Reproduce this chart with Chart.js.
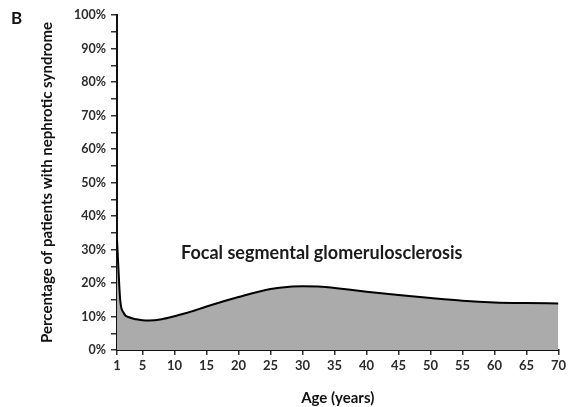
<!DOCTYPE html>
<html>
<head>
<meta charset="utf-8">
<script src="https://cdn.jsdelivr.net/npm/chart.js@4"></script>
<style>
    html, body { margin: 0; padding: 0; background: #fff; }
    #wrap { width: 569px; height: 407px; }
</style>
</head>
<body>
<div id="wrap"><canvas id="fsgsChart" width="569" height="407"></canvas></div>
<script>
// Age (years) and percentage of patients with nephrotic syndrome
const ages = [1, 1.5, 2, 3, 4, 5, 6, 8, 10, 12, 15, 20, 25, 28, 30, 33, 35, 40, 45, 50, 55, 60, 65, 70];
const percentages = [33, 15, 11.2, 9.7, 9.2, 8.9, 8.8, 9.2, 10.1, 11.1, 13, 15.8, 18.2, 18.9, 19, 18.9, 18.5, 17.4, 16.4, 15.5, 14.7, 14.2, 14, 13.9];

// Tick labels
const xTicks = [1, 5, 10, 15, 20, 25, 30, 35, 40, 45, 50, 55, 60, 65, 70];
const yTicks = [0, 10, 20, 30, 40, 50, 60, 70, 80, 90, 100];

const panelLetter = 'B';
const curveLabel = 'Focal segmental glomerulosclerosis';
const curveLabelAt = { x: 33, y: 29 };

const FONT = 'Lato, "Open Sans", sans-serif';
const TEXT_COLOR = '#2b2b2b';

// Draw panel letter and the in-plot label
const labelsPlugin = {
    id: 'labelsPlugin',
    afterDraw(chart) {
        const ctx = chart.ctx;
        const xs = chart.scales.x;
        const ys = chart.scales.y;
        ctx.save();
        ctx.fillStyle = '#111';
        ctx.font = `bold 17px ${FONT}`;
        ctx.textAlign = 'left';
        ctx.textBaseline = 'middle';
        ctx.fillText(panelLetter, 11, 19);

        ctx.fillStyle = '#1a1a1a';
        ctx.font = `bold 18px ${FONT}`;
        ctx.textAlign = 'center';
        ctx.fillText(curveLabel, xs.getPixelForValue(curveLabelAt.x), ys.getPixelForValue(curveLabelAt.y));
        ctx.restore();
    }
};

const points = ages.map((a, i) => ({ x: a, y: percentages[i] }));

new Chart(document.getElementById('fsgsChart'), {
    type: 'line',
    data: {
        datasets: [{
            data: points,
            borderColor: '#000',
            borderWidth: 2,
            backgroundColor: '#ababab',
            fill: 'origin',
            pointRadius: 0,
            cubicInterpolationMode: 'monotone'
        }]
    },
    options: {
        responsive: false,
        animation: false,
        layout: {
            padding: { top: 15, right: 9, left: 0, bottom: 0 }
        },
        plugins: {
            legend: { display: false },
            tooltip: { enabled: false }
        },
        scales: {
            x: {
                type: 'linear',
                min: 1,
                max: 70,
                afterBuildTicks: (scale) => {
                    scale.ticks = xTicks.map(v => ({ value: v }));
                },
                afterFit: (scale) => { scale.height = 57; },
                grid: {
                    drawOnChartArea: false,
                    drawTicks: true,
                    tickLength: 5,
                    color: '#333',
                    lineWidth: 1.5
                },
                border: { display: true, color: '#111', width: 2 },
                ticks: {
                    autoSkip: false,
                    maxRotation: 0,
                    padding: 3,
                    color: TEXT_COLOR,
                    font: { family: FONT, size: 13, weight: 'bold' }
                },
                title: {
                    display: true,
                    text: 'Age (years)',
                    color: '#111',
                    font: { family: FONT, size: 15, weight: 'bold' },
                    padding: { top: 0, bottom: 0 }
                }
            },
            y: {
                min: 0,
                max: 100,
                afterBuildTicks: (scale) => {
                    // major ticks from the list plus minor ticks halfway between them
                    const all = [];
                    yTicks.forEach((v, i) => {
                        all.push({ value: v });
                        if (i < yTicks.length - 1) all.push({ value: (v + yTicks[i + 1]) / 2 });
                    });
                    scale.ticks = all;
                },
                afterFit: (scale) => { scale.width = 117; },
                grid: {
                    drawOnChartArea: false,
                    drawTicks: true,
                    tickLength: 6,
                    color: '#333',
                    lineWidth: 1.5
                },
                border: { display: true, color: '#111', width: 2 },
                ticks: {
                    autoSkip: false,
                    padding: 5,
                    color: TEXT_COLOR,
                    font: { family: FONT, size: 12.5, weight: 'bold' },
                    callback: (v) => (yTicks.includes(v) ? v + '%' : '')
                },
                title: {
                    display: true,
                    text: 'Percentage of patients with nephrotic syndrome',
                    color: '#111',
                    font: { family: FONT, size: 15, weight: 'bold' },
                    padding: { top: 38, bottom: 0 }
                }
            }
        }
    },
    plugins: [labelsPlugin]
});
</script>
</body>
</html>
